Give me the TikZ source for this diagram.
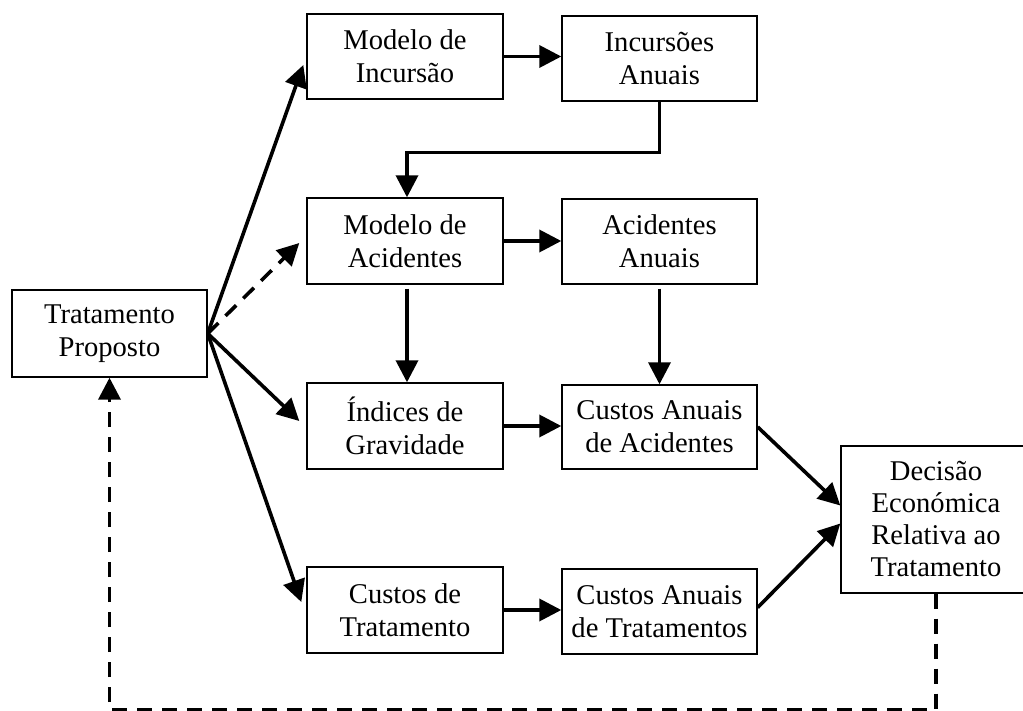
\documentclass[tikz,border=0pt]{standalone}
\usepackage{fontspec}
\setmainfont{Liberation Serif}
\usetikzlibrary{arrows.meta,calc}
\begin{document}
\begin{tikzpicture}[x=0.5pt,y=-0.5pt,
  box/.style={draw, line width=0.7pt, minimum width=98pt, minimum height=42.5pt, inner sep=0pt, align=center, font=\fontsize{14.3}{16.5}\selectfont},
  arr/.style={line width=1.8pt, -{Triangle[length=11pt,width=11pt]}},
  darr/.style={arr, dash pattern=on 7.5pt off 5pt}]
\clip (0,0) rectangle (1023,711);
\fill[white] (0,0) rectangle (1023,711);
% nodes
\node[box, minimum width=97.5pt, minimum height=43.5pt] (TP) at (109.5,333.5) {Tratamento\\Proposto};
\node[box] (MI) at (405,56.5) {Modelo de\\Incursão};
\node[box, minimum width=97.5pt] (IA) at (659.5,58.5) {Incursões\\Anuais};
\node[box, minimum height=43pt] (MA) at (405,241) {Modelo de\\Acidentes};
\node[box, minimum width=97.5pt] (AA) at (659.5,241.5) {Acidentes\\Anuais};
\node[box, minimum height=43pt] (IG) at (405,426) {Índices de\\Gravidade};
\node[box, minimum width=97.5pt, minimum height=42pt] (CAA) at (659.5,427) {Custos Anuais\\de Acidentes};
\node[box, minimum height=43pt] (CT) at (405,610) {Custos de\\Tratamento};
\node[box, minimum width=97.5pt] (CAT) at (659.5,611.5) {Custos Anuais\\de Tratamentos};
\node[box, minimum width=95pt, minimum height=73.5pt, font=\fontsize{14.3}{16}\selectfont] (D) at (936,519.5) {Decisão\\Económica\\Relativa ao\\Tratamento};
% connectors
\draw[arr] (TP.east) -- ($(MI.west)+(-3,8.5)$);
\draw[darr] (TP.east) -- ($(MA.west)+(-7,2)$);
\draw[arr] (TP.east) -- ($(IG.west)+(-7,-5)$);
\draw[arr] (TP.east) -- ($(CT.west)+(-5,-8)$);
\draw[arr] (MI.east) -- (MI.east -| IA.west);
\draw[arr] (IA.south) -- ++(0,51) -| ($(MA.north)+(2,0)$);
\draw[arr] (MA.east) -- (MA.east -| AA.west);
\draw[arr] ($(MA.south)+(2,4)$) -- ($(IG.north)+(2,0)$);
\draw[arr] ($(AA.south)+(0,4)$) -- (CAA.north);
\draw[arr] (IG.east) -- (IG.east -| CAA.west);
\draw[arr] (CT.east) -- (CT.east -| CAT.west);
\draw[arr] (CAA.east) -- ($(D.west)+(0,-14)$);
\draw[arr] ($(CAT.east)+(0,-4)$) -- ($(D.west)+(0,4)$);
\draw[darr] (D.south) -- ++(0,116) -| (TP.south);
\end{tikzpicture}
\end{document}
